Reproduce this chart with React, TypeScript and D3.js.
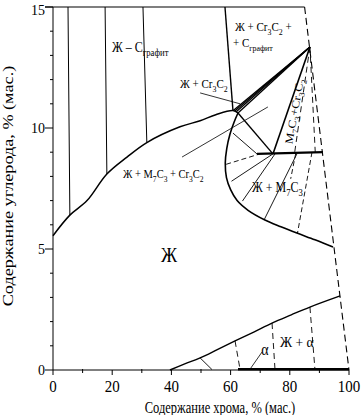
import React from 'react';
import * as d3 from 'd3';

type P = [number, number];

const W = 361, H = 415;

// axis ticks
const xTicks = [0, 20, 40, 60, 80, 100];
const xMinorTicks = [10, 30, 50, 70, 90];
const yTicks = [0, 5, 10, 15];
const yMinorTicks = [1, 2, 3, 4, 6, 7, 8, 9, 11, 12, 13, 14];

// liquidus, graphite side (Cr %, C %)
const liquidusGraphite: P[] = [[0, 5.55], [5.7, 6.4], [11.5, 7.0], [18.2, 8.1], [25, 8.8], [31.7, 9.4], [42.9, 10.05], [49.7, 10.3], [55, 10.55], [60.8, 10.72], [62.5, 10.62]];
// liquidus, M7C3 primary field
const liquidusM7C3: P[] = [[62.5, 10.62], [61.2, 10.25], [59.8, 9.75], [58.7, 9.15], [58.2, 8.55], [58.6, 7.95], [60, 7.45], [62.2, 7.0], [65.9, 6.6], [71.6, 6.2], [77, 5.92], [82.4, 5.66], [88.5, 5.38], [94.6, 5.08]];
// alpha solvus
const alphaSolvus: P[] = [[39.5, 0], [44.5, 0.25], [49.7, 0.5], [55.5, 0.84], [61.5, 1.2], [68, 1.58], [74, 1.94], [80.5, 2.28], [86.8, 2.6], [97, 3.06]];

// tie lines in Ж + C(graphite)
const graphiteTies: P[][] = [[[5.07, 15], [5.7, 6.4]], [[17.6, 15], [18.2, 8.1]], [[30.4, 15], [31.7, 9.4]]];
const graphiteBoundary: P[] = [[58.1, 15], [60.8, 10.72]];

// Cr3C2 composition and the fan of tie lines Ж + Cr3C2
const cr3c2: P = [86.8, 13.35];
const fanEnds: P[] = [[60.9, 10.72], [61.4, 10.7], [61.9, 10.67], [62.5, 10.62]];

// M7C3 homogeneity line and three-phase triangle
const m7c3Line: P[] = [[68.9, 8.93], [91.2, 9.0]];
const eutectic: P = [74.3, 8.93];
const liquidCorner: P = [62.5, 10.62];

// tie lines Ж + M7C3
const m7c3TiesSolid: P[][] = [[[60.8, 9.79], [68.9, 8.93]], [[60.3, 7.8], [74.3, 8.93]], [[64.0, 6.98], [75.0, 8.93]], [[71.3, 6.2], [82.4, 8.93]]];
const m7c3TiesDashed: P[][] = [[[58.5, 8.5], [69.9, 8.93]], [[82.0, 8.95], [80.3, 7.9]], [[87.5, 9.0], [82.6, 5.66]]];
// tie lines M7C3 + Cr3C2
const carbideTies: P[][] = [[cr3c2, [81.6, 8.95]], [cr3c2, [88.6, 9.0]]];

// leader lines
const leaders: P[][] = [[[49.7, 11.45], [63.2, 11.0]], [[43.6, 8.8], [72.6, 10.87]], [[70.6, 0.74], [66.6, 0.04]]];

// alpha region tie lines
const alphaTiesSolid: P[][] = [[[49.7, 0.5], [53.7, 0.02]]];
const alphaTiesDashed: P[][] = [[[61.5, 1.2], [63.2, 0.02]], [[74, 1.94], [75, 0.02]], [[86.8, 2.6], [88.5, 0.02]]];
const alphaBottom: P[] = [[62.5, 0.03], [100, 0.03]];

// Cr + C = 100 limit
const limitLine: P[] = [[85, 15], [100, 0]];

const FONT = "'Liberation Serif', 'Times New Roman', Times, serif";

const x = d3.scaleLinear().domain([0, 100]).range([53, 349]);
const y = d3.scaleLinear().domain([0, 15]).range([370, 7]);

const line = d3.line<P>().x(d => x(d[0])).y(d => y(d[1]));
const smooth = d3.line<P>().x(d => x(d[0])).y(d => y(d[1])).curve(d3.curveCatmullRom.alpha(0.5));

type Part = [string, boolean];

function Label({ px, py, parts, size, anchor = 'start', rotate = 0, stretch = 1.2, vertical = false }:
  { px: number; py: number; parts: Part[]; size: number; anchor?: string; rotate?: number; stretch?: number; vertical?: boolean }) {
  const sc = vertical ? `scale(${stretch},1)` : `scale(1,${stretch})`;
  let prevSub = false;
  return (
    <text transform={`translate(${px},${py}) rotate(${rotate}) ${sc}`} style={{ fontFamily: FONT, fontSize: size }} textAnchor={anchor} fill="#000">
      {parts.map(([t, sub], i) => {
        let dy = 0;
        if (sub && !prevSub) dy = size * 0.3;
        if (!sub && prevSub) dy = -size * 0.3;
        prevSub = sub;
        return <tspan key={i} dy={dy} style={{ fontSize: sub ? size * 0.72 : size }}>{t}</tspan>;
      })}
    </text>
  );
}

export default function App() {
  const dash = '7,4';
  return (
    <svg width={W} height={H} style={{ position: 'absolute', left: 0, top: 0, background: '#fff' }}>
      <rect width={W} height={H} fill="#fff" />
      {/* frame */}
      <line x1={x(0)} y1={y(0)} x2={x(0)} y2={y(15)} stroke="#000" strokeWidth={1} />
      <line x1={x(0) - 8} y1={y(15)} x2={x(85)} y2={y(15)} stroke="#000" strokeWidth={1.2} />
      <line x1={x(0)} y1={y(0)} x2={x(100)} y2={y(0)} stroke="#000" strokeWidth={1} />
      <path d={line(limitLine)!} stroke="#000" strokeWidth={1.1} fill="none" strokeDasharray={dash} />

      {/* ticks */}
      {xTicks.map(t => <line key={'xt' + t} x1={x(t)} x2={x(t)} y1={y(0)} y2={y(0) + 5} stroke="#000" />)}
      {xMinorTicks.map(t => <line key={'xm' + t} x1={x(t)} x2={x(t)} y1={y(0) - 1} y2={y(0) + 3} stroke="#000" />)}
      {yTicks.map(t => <line key={'yt' + t} x1={x(0) - 8} x2={x(0)} y1={y(t)} y2={y(t)} stroke="#000" />)}
      {yMinorTicks.map(t => <line key={'ym' + t} x1={x(0) - 3} x2={x(0)} y1={y(t)} y2={y(t)} stroke="#000" />)}
      {xTicks.map(t => (
        <Label key={'xl' + t} px={x(t)} py={392} parts={[[String(t), false]]} size={15} anchor="middle" stretch={1.15} />
      ))}
      {yTicks.map(t => (
        <Label key={'yl' + t} px={x(0) - 8} py={Math.max(y(t) + 5, 15)} parts={[[String(t), false]]} size={14} anchor="end" stretch={1.05} />
      ))}
      <Label px={220} py={413} parts={[['Содержание хрома, % (мас.)', false]]} size={12.5} anchor="middle" stretch={1.28} />
      <Label px={13} py={186} parts={[['Содержание углерода, % (мас.)', false]]} size={14} anchor="middle" rotate={-90} stretch={1.3} vertical />

      {/* graphite field */}
      {graphiteTies.map((d, i) => <path key={'gt' + i} d={line(d)!} stroke="#000" strokeWidth={1} fill="none" />)}
      <path d={line(graphiteBoundary)!} stroke="#000" strokeWidth={1.4} fill="none" />
      <path d={smooth(liquidusGraphite)!} stroke="#000" strokeWidth={1.5} fill="none" />

      {/* Ж + Cr3C2 fan */}
      {fanEnds.map((e, i) => <path key={'fan' + i} d={line([cr3c2, e])!} stroke="#000" strokeWidth={1.3} fill="none" />)}

      {/* triangle and M7C3 */}
      <path d={line([liquidCorner, eutectic])!} stroke="#000" strokeWidth={1.4} fill="none" />
      <path d={line([eutectic, cr3c2])!} stroke="#000" strokeWidth={1.6} fill="none" />
      <path d={line(m7c3Line)!} stroke="#000" strokeWidth={2.2} fill="none" />
      <path d={smooth(liquidusM7C3)!} stroke="#000" strokeWidth={1.6} fill="none" />
      {m7c3TiesSolid.map((d, i) => <path key={'ms' + i} d={line(d)!} stroke="#000" strokeWidth={0.9} fill="none" />)}
      {m7c3TiesDashed.map((d, i) => <path key={'md' + i} d={line(d)!} stroke="#000" strokeWidth={0.9} fill="none" strokeDasharray="5,3" />)}
      {carbideTies.map((d, i) => <path key={'ct' + i} d={line(d)!} stroke="#000" strokeWidth={0.9} fill="none" strokeDasharray="6,4" />)}
      {leaders.map((d, i) => <path key={'ld' + i} d={line(d)!} stroke="#000" strokeWidth={0.8} fill="none" />)}

      {/* alpha */}
      <path d={smooth(alphaSolvus)!} stroke="#000" strokeWidth={1.4} fill="none" />
      {alphaTiesSolid.map((d, i) => <path key={'as' + i} d={line(d)!} stroke="#000" strokeWidth={0.9} fill="none" />)}
      {alphaTiesDashed.map((d, i) => <path key={'ad' + i} d={line(d)!} stroke="#000" strokeWidth={0.9} fill="none" strokeDasharray="6,4" />)}
      <path d={line(alphaBottom)!} stroke="#000" strokeWidth={2.6} fill="none" />

      {/* region labels */}
      <Label px={112} py={52} size={12} stretch={1.15} parts={[['Ж – C', false], ['графит', true]]} />
      <Label px={235} py={31} size={11} stretch={1.15} parts={[['Ж + Cr', false], ['3', true], ['C', false], ['2', true], [' +', false]]} />
      <Label px={233} py={47} size={11} stretch={1.15} parts={[['+ C', false], ['графит', true]]} />
      <Label px={180} py={88} size={11} stretch={1.15} parts={[['Ж + Cr', false], ['3', true], ['C', false], ['2', true]]} />
      <Label px={123} py={178} size={10.5} stretch={1.15} parts={[['Ж + M', false], ['7', true], ['C', false], ['3', true], [' + Cr', false], ['3', true], ['C', false], ['2', true]]} />
      <Label px={252} py={192} size={12} stretch={1.15} parts={[['Ж + M', false], ['7', true], ['C', false], ['3', true]]} />
      <Label px={298} py={112} size={11} rotate={-80} anchor="middle" stretch={1.15} vertical parts={[['M', false], ['7', true], ['C', false], ['3', true], ['+Cr', false], ['3', true], ['C', false], ['2', true]]} />
      <Label px={169} py={262} size={18} anchor="middle" stretch={1.15} parts={[['Ж', false]]} />
      <Label px={280} py={347} size={13.5} stretch={1.15} parts={[['Ж + α', false]]} />
      <Label px={265} py={355} size={14} anchor="middle" stretch={1.15} parts={[['α', false]]} />
    </svg>
  );
}
